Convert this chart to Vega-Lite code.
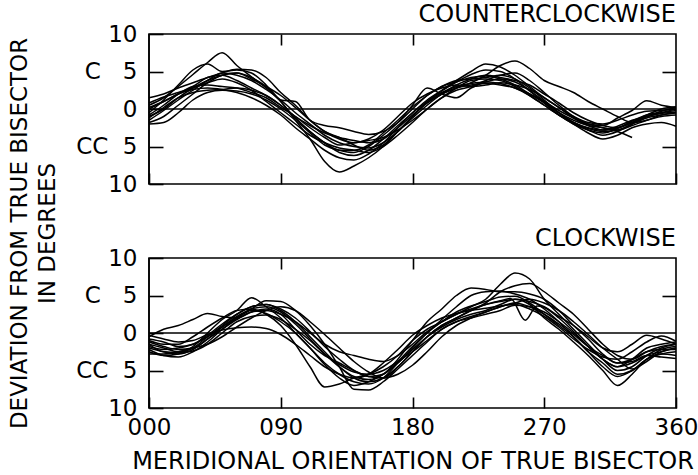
{
"$schema": "https://vega.github.io/schema/vega-lite/v6.json",
"background": "white",
"autosize": {"type": "none"},
"padding": {"left": 149, "top": 34, "right": 22, "bottom": 441},
"config": {
 "font": "DejaVu Sans",
 "view": {"stroke": "black", "strokeWidth": 1.6},
 "axis": {"grid": false, "domain": false, "minExtent": 0, "tickColor": "black", "tickWidth": 1.6, "labelColor": "black", "labelFont": "DejaVu Sans", "labelFontSize": 23, "titleFont": "DejaVu Sans", "titleFontSize": 24, "titleFontWeight": "normal", "titleColor": "black", "labelFlush": false, "labelOverlap": false},
 "title": {"font": "DejaVu Sans", "fontSize": 24, "fontWeight": "normal", "color": "black", "anchor": "end", "frame": "group"}
},
"datasets": {
"ccw": [
{"c":1,"x":0,"y":0.5},{"c":1,"x":10,"y":1.5},{"c":1,"x":20,"y":3.0},{"c":1,"x":30,"y":4.6},{"c":1,"x":40,"y":6.2},{"c":1,"x":50,"y":7.5},{"c":1,"x":60,"y":5.8},{"c":1,"x":70,"y":4.3},{"c":1,"x":80,"y":2.8},{"c":1,"x":90,"y":1.0},{"c":1,"x":100,"y":-1.5},{"c":1,"x":110,"y":-4.0},{"c":1,"x":120,"y":-7.0},{"c":1,"x":130,"y":-8.4},{"c":1,"x":140,"y":-7.6},{"c":1,"x":150,"y":-6.5},{"c":1,"x":160,"y":-5.0},{"c":1,"x":170,"y":-3.0},{"c":1,"x":180,"y":-1.0},{"c":1,"x":190,"y":1.0},{"c":1,"x":200,"y":2.4},{"c":1,"x":210,"y":3.6},{"c":1,"x":220,"y":4.6},{"c":1,"x":230,"y":5.2},{"c":1,"x":240,"y":5.0},{"c":1,"x":250,"y":4.0},{"c":1,"x":260,"y":2.4},{"c":1,"x":270,"y":0.8},{"c":1,"x":280,"y":-0.8},{"c":1,"x":290,"y":-2.0},{"c":1,"x":300,"y":-2.8},{"c":1,"x":310,"y":-3.2},{"c":1,"x":320,"y":-2.6},{"c":1,"x":330,"y":-1.6},{"c":1,"x":340,"y":-0.8},{"c":1,"x":350,"y":-0.5},{"c":1,"x":360,"y":-0.2},
{"c":2,"x":0,"y":-0.5},{"c":2,"x":10,"y":1.2},{"c":2,"x":20,"y":3.2},{"c":2,"x":30,"y":5.2},{"c":2,"x":40,"y":6.0},{"c":2,"x":50,"y":5.0},{"c":2,"x":60,"y":5.2},{"c":2,"x":70,"y":4.8},{"c":2,"x":80,"y":3.2},{"c":2,"x":90,"y":1.0},{"c":2,"x":100,"y":-1.2},{"c":2,"x":110,"y":-3.0},{"c":2,"x":120,"y":-4.5},{"c":2,"x":130,"y":-5.8},{"c":2,"x":140,"y":-6.2},{"c":2,"x":150,"y":-5.5},{"c":2,"x":160,"y":-4.0},{"c":2,"x":170,"y":-2.2},{"c":2,"x":180,"y":-0.5},{"c":2,"x":190,"y":1.2},{"c":2,"x":200,"y":2.5},{"c":2,"x":210,"y":3.8},{"c":2,"x":220,"y":5.0},{"c":2,"x":230,"y":6.0},{"c":2,"x":240,"y":5.6},{"c":2,"x":250,"y":4.5},{"c":2,"x":260,"y":3.0},{"c":2,"x":270,"y":1.5},{"c":2,"x":280,"y":0.2},{"c":2,"x":290,"y":-1.2},{"c":2,"x":300,"y":-2.2},{"c":2,"x":310,"y":-2.8},{"c":2,"x":320,"y":-2.5},{"c":2,"x":330,"y":-1.8},{"c":2,"x":340,"y":-1.0},{"c":2,"x":350,"y":-0.6},{"c":2,"x":360,"y":-0.4},
{"c":3,"x":0,"y":1.5},{"c":3,"x":10,"y":2.0},{"c":3,"x":20,"y":2.8},{"c":3,"x":30,"y":3.5},{"c":3,"x":40,"y":4.2},{"c":3,"x":50,"y":4.8},{"c":3,"x":60,"y":5.3},{"c":3,"x":70,"y":5.2},{"c":3,"x":80,"y":4.2},{"c":3,"x":90,"y":2.2},{"c":3,"x":100,"y":0.5},{"c":3,"x":110,"y":-1.5},{"c":3,"x":120,"y":-3.0},{"c":3,"x":130,"y":-3.8},{"c":3,"x":140,"y":-4.8},{"c":3,"x":150,"y":-5.5},{"c":3,"x":160,"y":-4.8},{"c":3,"x":170,"y":-3.0},{"c":3,"x":180,"y":-1.0},{"c":3,"x":190,"y":0.8},{"c":3,"x":200,"y":2.0},{"c":3,"x":210,"y":2.8},{"c":3,"x":220,"y":3.5},{"c":3,"x":230,"y":4.5},{"c":3,"x":240,"y":5.8},{"c":3,"x":250,"y":6.4},{"c":3,"x":260,"y":5.4},{"c":3,"x":270,"y":3.8},{"c":3,"x":280,"y":3.0},{"c":3,"x":290,"y":2.2},{"c":3,"x":300,"y":1.0},{"c":3,"x":310,"y":0.0},{"c":3,"x":320,"y":-1.0},{"c":3,"x":330,"y":-1.8},{"c":3,"x":340,"y":-1.5},{"c":3,"x":350,"y":-0.8},{"c":3,"x":360,"y":-0.5},
{"c":4,"x":0,"y":-1.0},{"c":4,"x":10,"y":0.0},{"c":4,"x":20,"y":1.5},{"c":4,"x":30,"y":2.8},{"c":4,"x":40,"y":3.8},{"c":4,"x":50,"y":4.5},{"c":4,"x":60,"y":4.8},{"c":4,"x":70,"y":4.2},{"c":4,"x":80,"y":3.0},{"c":4,"x":90,"y":1.2},{"c":4,"x":100,"y":1.0},{"c":4,"x":110,"y":-1.5},{"c":4,"x":120,"y":-2.2},{"c":4,"x":130,"y":-2.5},{"c":4,"x":140,"y":-3.0},{"c":4,"x":150,"y":-3.4},{"c":4,"x":160,"y":-3.0},{"c":4,"x":170,"y":-1.8},{"c":4,"x":180,"y":0.0},{"c":4,"x":190,"y":1.8},{"c":4,"x":200,"y":3.0},{"c":4,"x":210,"y":3.8},{"c":4,"x":220,"y":4.0},{"c":4,"x":230,"y":4.2},{"c":4,"x":240,"y":4.5},{"c":4,"x":250,"y":4.0},{"c":4,"x":260,"y":2.8},{"c":4,"x":270,"y":1.2},{"c":4,"x":280,"y":-0.5},{"c":4,"x":290,"y":-1.8},{"c":4,"x":300,"y":-2.8},{"c":4,"x":310,"y":-3.5},{"c":4,"x":320,"y":-3.0},{"c":4,"x":330,"y":-2.0},{"c":4,"x":340,"y":-1.0},{"c":4,"x":350,"y":-0.3},{"c":4,"x":360,"y":0.2},
{"c":5,"x":0,"y":-2.0},{"c":5,"x":10,"y":-1.8},{"c":5,"x":20,"y":-0.5},{"c":5,"x":30,"y":1.2},{"c":5,"x":40,"y":2.2},{"c":5,"x":50,"y":2.5},{"c":5,"x":60,"y":2.4},{"c":5,"x":70,"y":2.0},{"c":5,"x":80,"y":1.2},{"c":5,"x":90,"y":0.0},{"c":5,"x":100,"y":-1.5},{"c":5,"x":110,"y":-3.2},{"c":5,"x":120,"y":-4.8},{"c":5,"x":130,"y":-5.5},{"c":5,"x":140,"y":-5.8},{"c":5,"x":150,"y":-5.0},{"c":5,"x":160,"y":-3.5},{"c":5,"x":170,"y":-1.8},{"c":5,"x":180,"y":0.5},{"c":5,"x":190,"y":2.8},{"c":5,"x":200,"y":2.0},{"c":5,"x":210,"y":1.5},{"c":5,"x":220,"y":2.8},{"c":5,"x":230,"y":3.6},{"c":5,"x":240,"y":4.0},{"c":5,"x":250,"y":3.6},{"c":5,"x":260,"y":2.5},{"c":5,"x":270,"y":1.0},{"c":5,"x":280,"y":-0.5},{"c":5,"x":290,"y":-1.8},{"c":5,"x":300,"y":-2.5},{"c":5,"x":310,"y":-2.8},{"c":5,"x":320,"y":-2.3},{"c":5,"x":330,"y":-1.5},{"c":5,"x":340,"y":-1.0},{"c":5,"x":350,"y":-0.5},{"c":5,"x":360,"y":0.0},
{"c":6,"x":0,"y":0.2},{"c":6,"x":10,"y":1.0},{"c":6,"x":20,"y":2.0},{"c":6,"x":30,"y":2.6},{"c":6,"x":40,"y":2.8},{"c":6,"x":50,"y":2.6},{"c":6,"x":60,"y":2.2},{"c":6,"x":70,"y":1.5},{"c":6,"x":80,"y":0.5},{"c":6,"x":90,"y":-0.8},{"c":6,"x":100,"y":-2.5},{"c":6,"x":110,"y":-4.0},{"c":6,"x":120,"y":-5.5},{"c":6,"x":130,"y":-6.5},{"c":6,"x":140,"y":-6.8},{"c":6,"x":150,"y":-6.0},{"c":6,"x":160,"y":-4.5},{"c":6,"x":170,"y":-2.5},{"c":6,"x":180,"y":-0.5},{"c":6,"x":190,"y":1.0},{"c":6,"x":200,"y":2.2},{"c":6,"x":210,"y":3.0},{"c":6,"x":220,"y":3.4},{"c":6,"x":230,"y":3.6},{"c":6,"x":240,"y":3.4},{"c":6,"x":250,"y":2.8},{"c":6,"x":260,"y":1.8},{"c":6,"x":270,"y":0.5},{"c":6,"x":280,"y":-0.8},{"c":6,"x":290,"y":-1.8},{"c":6,"x":300,"y":-2.6},{"c":6,"x":310,"y":-3.0},{"c":6,"x":320,"y":-2.8},{"c":6,"x":330,"y":-2.0},{"c":6,"x":340,"y":-1.2},{"c":6,"x":350,"y":-0.8},{"c":6,"x":360,"y":-0.5},
{"c":7,"x":0,"y":-1.5},{"c":7,"x":10,"y":-0.2},{"c":7,"x":20,"y":1.2},{"c":7,"x":30,"y":2.5},{"c":7,"x":40,"y":3.8},{"c":7,"x":50,"y":4.8},{"c":7,"x":60,"y":4.5},{"c":7,"x":70,"y":3.8},{"c":7,"x":80,"y":2.6},{"c":7,"x":90,"y":1.2},{"c":7,"x":100,"y":-0.5},{"c":7,"x":110,"y":-2.0},{"c":7,"x":120,"y":-3.5},{"c":7,"x":130,"y":-4.5},{"c":7,"x":140,"y":-5.0},{"c":7,"x":150,"y":-5.2},{"c":7,"x":160,"y":-4.5},{"c":7,"x":170,"y":-3.0},{"c":7,"x":180,"y":-1.2},{"c":7,"x":190,"y":0.5},{"c":7,"x":200,"y":2.0},{"c":7,"x":210,"y":3.2},{"c":7,"x":220,"y":4.0},{"c":7,"x":230,"y":4.5},{"c":7,"x":240,"y":4.2},{"c":7,"x":250,"y":3.8},{"c":7,"x":260,"y":3.2},{"c":7,"x":270,"y":2.0},{"c":7,"x":280,"y":0.8},{"c":7,"x":290,"y":-0.5},{"c":7,"x":300,"y":-1.5},{"c":7,"x":310,"y":-2.2},{"c":7,"x":320,"y":-2.5},{"c":7,"x":330,"y":-1.8},{"c":7,"x":340,"y":-0.8},{"c":7,"x":350,"y":0.0},{"c":7,"x":360,"y":0.3},
{"c":8,"x":0,"y":0.8},{"c":8,"x":10,"y":1.6},{"c":8,"x":20,"y":2.2},{"c":8,"x":30,"y":2.8},{"c":8,"x":40,"y":3.5},{"c":8,"x":50,"y":4.0},{"c":8,"x":60,"y":3.5},{"c":8,"x":70,"y":2.5},{"c":8,"x":80,"y":1.0},{"c":8,"x":90,"y":-0.5},{"c":8,"x":100,"y":-2.0},{"c":8,"x":110,"y":-3.5},{"c":8,"x":120,"y":-4.5},{"c":8,"x":130,"y":-5.2},{"c":8,"x":140,"y":-5.5},{"c":8,"x":150,"y":-5.8},{"c":8,"x":160,"y":-5.0},{"c":8,"x":170,"y":-3.5},{"c":8,"x":180,"y":-1.8},{"c":8,"x":190,"y":0.0},{"c":8,"x":200,"y":1.5},{"c":8,"x":210,"y":2.5},{"c":8,"x":220,"y":3.0},{"c":8,"x":230,"y":3.8},{"c":8,"x":240,"y":4.5},{"c":8,"x":250,"y":4.8},{"c":8,"x":260,"y":3.8},{"c":8,"x":270,"y":2.2},{"c":8,"x":280,"y":0.5},{"c":8,"x":290,"y":-1.0},{"c":8,"x":300,"y":-2.0},{"c":8,"x":310,"y":-2.2},{"c":8,"x":320,"y":-1.2},{"c":8,"x":330,"y":-0.2},{"c":8,"x":340,"y":1.1},{"c":8,"x":350,"y":0.5},{"c":8,"x":360,"y":0.2},
{"c":9,"x":0,"y":-0.8},{"c":9,"x":10,"y":0.5},{"c":9,"x":20,"y":2.0},{"c":9,"x":30,"y":3.0},{"c":9,"x":40,"y":3.2},{"c":9,"x":50,"y":3.0},{"c":9,"x":60,"y":2.8},{"c":9,"x":70,"y":2.2},{"c":9,"x":80,"y":1.5},{"c":9,"x":90,"y":0.2},{"c":9,"x":100,"y":-1.0},{"c":9,"x":110,"y":-2.5},{"c":9,"x":120,"y":-3.8},{"c":9,"x":130,"y":-4.8},{"c":9,"x":140,"y":-4.5},{"c":9,"x":150,"y":-4.2},{"c":9,"x":160,"y":-3.8},{"c":9,"x":170,"y":-2.8},{"c":9,"x":180,"y":-1.5},{"c":9,"x":190,"y":0.0},{"c":9,"x":200,"y":1.5},{"c":9,"x":210,"y":2.8},{"c":9,"x":220,"y":3.8},{"c":9,"x":230,"y":4.0},{"c":9,"x":240,"y":3.8},{"c":9,"x":250,"y":3.0},{"c":9,"x":260,"y":1.8},{"c":9,"x":270,"y":0.5},{"c":9,"x":280,"y":-0.8},{"c":9,"x":290,"y":-2.0},{"c":9,"x":300,"y":-3.2},{"c":9,"x":310,"y":-4.0},{"c":9,"x":320,"y":-3.5},{"c":9,"x":330,"y":-2.5},{"c":9,"x":340,"y":-2.0},{"c":9,"x":350,"y":-1.8},{"c":9,"x":360,"y":-2.3},
{"c":10,"x":0,"y":-1.8},{"c":10,"x":10,"y":-1.0},{"c":10,"x":20,"y":0.5},{"c":10,"x":30,"y":2.0},{"c":10,"x":40,"y":3.5},{"c":10,"x":50,"y":4.5},{"c":10,"x":60,"y":4.8},{"c":10,"x":70,"y":4.0},{"c":10,"x":80,"y":3.0},{"c":10,"x":90,"y":1.8},{"c":10,"x":100,"y":0.2},{"c":10,"x":110,"y":-1.5},{"c":10,"x":120,"y":-3.0},{"c":10,"x":130,"y":-4.0},{"c":10,"x":140,"y":-4.5},{"c":10,"x":150,"y":-4.0},{"c":10,"x":160,"y":-2.8},{"c":10,"x":170,"y":-1.0},{"c":10,"x":180,"y":0.8},{"c":10,"x":190,"y":2.0},{"c":10,"x":200,"y":2.8},{"c":10,"x":210,"y":3.2},{"c":10,"x":220,"y":3.0},{"c":10,"x":230,"y":3.2},{"c":10,"x":240,"y":3.5},{"c":10,"x":250,"y":3.2},{"c":10,"x":260,"y":2.6},{"c":10,"x":270,"y":1.5},{"c":10,"x":280,"y":0.2},{"c":10,"x":290,"y":-1.0},{"c":10,"x":300,"y":-1.8},{"c":10,"x":310,"y":-2.0},{"c":10,"x":320,"y":-1.5},{"c":10,"x":330,"y":-0.8},{"c":10,"x":340,"y":-0.3},{"c":10,"x":350,"y":-0.2},{"c":10,"x":360,"y":0.0},
{"c":11,"x":0,"y":0.0},{"c":11,"x":10,"y":1.0},{"c":11,"x":20,"y":2.0},{"c":11,"x":30,"y":3.0},{"c":11,"x":40,"y":4.2},{"c":11,"x":50,"y":4.5},{"c":11,"x":60,"y":3.8},{"c":11,"x":70,"y":2.8},{"c":11,"x":80,"y":1.8},{"c":11,"x":90,"y":0.5},{"c":11,"x":100,"y":-1.2},{"c":11,"x":110,"y":-3.0},{"c":11,"x":120,"y":-4.5},{"c":11,"x":130,"y":-5.5},{"c":11,"x":140,"y":-5.5},{"c":11,"x":150,"y":-4.8},{"c":11,"x":160,"y":-3.2},{"c":11,"x":170,"y":-1.5},{"c":11,"x":180,"y":0.3},{"c":11,"x":190,"y":1.8},{"c":11,"x":200,"y":3.0},{"c":11,"x":210,"y":3.6},{"c":11,"x":220,"y":4.2},{"c":11,"x":230,"y":4.4},{"c":11,"x":240,"y":4.0},{"c":11,"x":250,"y":3.2},{"c":11,"x":260,"y":2.0},{"c":11,"x":270,"y":0.8},{"c":11,"x":280,"y":-0.5},{"c":11,"x":290,"y":-1.5},{"c":11,"x":300,"y":-2.2},{"c":11,"x":310,"y":-2.5},{"c":11,"x":320,"y":-3.0},{"c":11,"x":330,"y":-3.8},
{"c":12,"x":0,"y":-1.2},{"c":12,"x":10,"y":0.2},{"c":12,"x":20,"y":1.5},{"c":12,"x":30,"y":2.2},{"c":12,"x":40,"y":2.5},{"c":12,"x":50,"y":2.6},{"c":12,"x":60,"y":2.8},{"c":12,"x":70,"y":2.5},{"c":12,"x":80,"y":1.8},{"c":12,"x":90,"y":0.5},{"c":12,"x":100,"y":-1.0},{"c":12,"x":110,"y":-2.2},{"c":12,"x":120,"y":-3.2},{"c":12,"x":130,"y":-3.8},{"c":12,"x":140,"y":-4.2},{"c":12,"x":150,"y":-4.5},{"c":12,"x":160,"y":-4.0},{"c":12,"x":170,"y":-2.5},{"c":12,"x":180,"y":-0.8},{"c":12,"x":190,"y":0.8},{"c":12,"x":200,"y":2.0},{"c":12,"x":210,"y":2.8},{"c":12,"x":220,"y":3.2},{"c":12,"x":230,"y":3.4},{"c":12,"x":240,"y":3.2},{"c":12,"x":250,"y":2.8},{"c":12,"x":260,"y":2.0},{"c":12,"x":270,"y":1.0},{"c":12,"x":280,"y":-0.2},{"c":12,"x":290,"y":-1.2},{"c":12,"x":300,"y":-2.0},{"c":12,"x":310,"y":-2.5},{"c":12,"x":320,"y":-2.8},{"c":12,"x":330,"y":-2.2},{"c":12,"x":340,"y":-1.5},{"c":12,"x":350,"y":-1.0},{"c":12,"x":360,"y":-0.8}
],
"cw": [
{"c":1,"x":0,"y":-1.0},{"c":1,"x":10,"y":-1.5},{"c":1,"x":20,"y":-1.5},{"c":1,"x":30,"y":-0.5},{"c":1,"x":40,"y":0.8},{"c":1,"x":50,"y":2.0},{"c":1,"x":60,"y":3.0},{"c":1,"x":70,"y":3.2},{"c":1,"x":80,"y":2.5},{"c":1,"x":90,"y":1.0},{"c":1,"x":100,"y":-1.5},{"c":1,"x":110,"y":-4.5},{"c":1,"x":120,"y":-7.2},{"c":1,"x":130,"y":-6.8},{"c":1,"x":140,"y":-6.0},{"c":1,"x":150,"y":-5.5},{"c":1,"x":160,"y":-4.5},{"c":1,"x":170,"y":-3.0},{"c":1,"x":180,"y":-1.0},{"c":1,"x":190,"y":0.5},{"c":1,"x":200,"y":1.5},{"c":1,"x":210,"y":2.5},{"c":1,"x":220,"y":3.5},{"c":1,"x":230,"y":4.5},{"c":1,"x":240,"y":6.5},{"c":1,"x":250,"y":8.0},{"c":1,"x":260,"y":7.2},{"c":1,"x":270,"y":4.5},{"c":1,"x":280,"y":2.5},{"c":1,"x":290,"y":0.5},{"c":1,"x":300,"y":-1.5},{"c":1,"x":310,"y":-3.5},{"c":1,"x":320,"y":-5.0},{"c":1,"x":330,"y":-4.5},{"c":1,"x":340,"y":-3.0},{"c":1,"x":350,"y":-2.0},{"c":1,"x":360,"y":-1.5},
{"c":2,"x":0,"y":-2.0},{"c":2,"x":10,"y":-2.5},{"c":2,"x":20,"y":-2.8},{"c":2,"x":30,"y":-2.2},{"c":2,"x":40,"y":-0.8},{"c":2,"x":50,"y":0.8},{"c":2,"x":60,"y":2.2},{"c":2,"x":70,"y":3.2},{"c":2,"x":80,"y":3.5},{"c":2,"x":90,"y":2.8},{"c":2,"x":100,"y":1.2},{"c":2,"x":110,"y":-0.8},{"c":2,"x":120,"y":-2.8},{"c":2,"x":130,"y":-4.5},{"c":2,"x":140,"y":-5.8},{"c":2,"x":150,"y":-6.2},{"c":2,"x":160,"y":-5.5},{"c":2,"x":170,"y":-3.5},{"c":2,"x":180,"y":-1.0},{"c":2,"x":190,"y":1.5},{"c":2,"x":200,"y":3.2},{"c":2,"x":210,"y":5.0},{"c":2,"x":220,"y":6.0},{"c":2,"x":230,"y":5.8},{"c":2,"x":240,"y":5.5},{"c":2,"x":250,"y":5.5},{"c":2,"x":260,"y":5.2},{"c":2,"x":270,"y":4.5},{"c":2,"x":280,"y":3.0},{"c":2,"x":290,"y":1.0},{"c":2,"x":300,"y":-0.8},{"c":2,"x":310,"y":-2.8},{"c":2,"x":320,"y":-4.0},{"c":2,"x":330,"y":-3.5},{"c":2,"x":340,"y":-2.5},{"c":2,"x":350,"y":-2.2},{"c":2,"x":360,"y":-2.2},
{"c":3,"x":0,"y":-0.5},{"c":3,"x":10,"y":0.5},{"c":3,"x":20,"y":1.0},{"c":3,"x":30,"y":1.8},{"c":3,"x":40,"y":2.6},{"c":3,"x":50,"y":2.2},{"c":3,"x":60,"y":2.0},{"c":3,"x":70,"y":2.8},{"c":3,"x":80,"y":3.2},{"c":3,"x":90,"y":2.5},{"c":3,"x":100,"y":0.5},{"c":3,"x":110,"y":-1.5},{"c":3,"x":120,"y":-3.0},{"c":3,"x":130,"y":-4.0},{"c":3,"x":140,"y":-5.0},{"c":3,"x":150,"y":-5.8},{"c":3,"x":160,"y":-6.0},{"c":3,"x":170,"y":-4.5},{"c":3,"x":180,"y":-2.5},{"c":3,"x":190,"y":-0.5},{"c":3,"x":200,"y":1.0},{"c":3,"x":210,"y":2.0},{"c":3,"x":220,"y":3.0},{"c":3,"x":230,"y":4.0},{"c":3,"x":240,"y":5.5},{"c":3,"x":250,"y":6.3},{"c":3,"x":260,"y":6.6},{"c":3,"x":270,"y":5.5},{"c":3,"x":280,"y":4.0},{"c":3,"x":290,"y":2.5},{"c":3,"x":300,"y":0.5},{"c":3,"x":310,"y":-1.5},{"c":3,"x":320,"y":-3.0},{"c":3,"x":330,"y":-3.5},{"c":3,"x":340,"y":-2.5},{"c":3,"x":350,"y":-1.8},{"c":3,"x":360,"y":-1.5},
{"c":4,"x":0,"y":-1.5},{"c":4,"x":10,"y":-2.0},{"c":4,"x":20,"y":-2.5},{"c":4,"x":30,"y":-2.0},{"c":4,"x":40,"y":-0.5},{"c":4,"x":50,"y":1.0},{"c":4,"x":60,"y":2.5},{"c":4,"x":70,"y":3.5},{"c":4,"x":80,"y":3.8},{"c":4,"x":90,"y":3.0},{"c":4,"x":100,"y":1.5},{"c":4,"x":110,"y":-0.5},{"c":4,"x":120,"y":-2.5},{"c":4,"x":130,"y":-4.5},{"c":4,"x":140,"y":-6.0},{"c":4,"x":150,"y":-6.5},{"c":4,"x":160,"y":-6.0},{"c":4,"x":170,"y":-4.5},{"c":4,"x":180,"y":-2.5},{"c":4,"x":190,"y":-0.5},{"c":4,"x":200,"y":1.0},{"c":4,"x":210,"y":2.0},{"c":4,"x":220,"y":3.0},{"c":4,"x":230,"y":3.8},{"c":4,"x":240,"y":4.3},{"c":4,"x":247,"y":4.6},{"c":4,"x":257,"y":1.7},{"c":4,"x":265,"y":3.6},{"c":4,"x":270,"y":3.4},{"c":4,"x":280,"y":2.0},{"c":4,"x":290,"y":0.2},{"c":4,"x":300,"y":-1.8},{"c":4,"x":310,"y":-3.5},{"c":4,"x":320,"y":-4.5},{"c":4,"x":330,"y":-4.0},{"c":4,"x":340,"y":-3.0},{"c":4,"x":350,"y":-2.5},{"c":4,"x":360,"y":-2.0},
{"c":5,"x":0,"y":-2.5},{"c":5,"x":10,"y":-3.0},{"c":5,"x":20,"y":-2.8},{"c":5,"x":30,"y":-1.8},{"c":5,"x":40,"y":0.0},{"c":5,"x":50,"y":1.8},{"c":5,"x":60,"y":3.0},{"c":5,"x":70,"y":4.7},{"c":5,"x":80,"y":3.5},{"c":5,"x":90,"y":2.0},{"c":5,"x":100,"y":0.0},{"c":5,"x":110,"y":-2.0},{"c":5,"x":120,"y":-4.0},{"c":5,"x":130,"y":-5.5},{"c":5,"x":140,"y":-6.5},{"c":5,"x":150,"y":-6.8},{"c":5,"x":160,"y":-6.0},{"c":5,"x":170,"y":-4.0},{"c":5,"x":180,"y":-2.0},{"c":5,"x":190,"y":0.0},{"c":5,"x":200,"y":1.5},{"c":5,"x":210,"y":2.8},{"c":5,"x":220,"y":3.6},{"c":5,"x":230,"y":4.2},{"c":5,"x":240,"y":4.8},{"c":5,"x":250,"y":4.9},{"c":5,"x":260,"y":4.0},{"c":5,"x":270,"y":2.5},{"c":5,"x":280,"y":1.0},{"c":5,"x":290,"y":-0.5},{"c":5,"x":300,"y":-2.5},{"c":5,"x":310,"y":-4.5},{"c":5,"x":320,"y":-5.8},{"c":5,"x":330,"y":-5.0},{"c":5,"x":340,"y":-3.5},{"c":5,"x":350,"y":-2.8},{"c":5,"x":360,"y":-2.5},
{"c":6,"x":0,"y":-1.8},{"c":6,"x":10,"y":-2.2},{"c":6,"x":20,"y":-2.0},{"c":6,"x":30,"y":-1.5},{"c":6,"x":40,"y":-0.5},{"c":6,"x":50,"y":0.8},{"c":6,"x":60,"y":2.0},{"c":6,"x":70,"y":3.2},{"c":6,"x":80,"y":4.3},{"c":6,"x":90,"y":4.2},{"c":6,"x":100,"y":3.0},{"c":6,"x":110,"y":1.0},{"c":6,"x":120,"y":-1.5},{"c":6,"x":130,"y":-4.5},{"c":6,"x":140,"y":-7.5},{"c":6,"x":150,"y":-7.6},{"c":6,"x":160,"y":-6.5},{"c":6,"x":170,"y":-4.8},{"c":6,"x":180,"y":-3.0},{"c":6,"x":190,"y":-1.2},{"c":6,"x":200,"y":0.5},{"c":6,"x":210,"y":1.5},{"c":6,"x":220,"y":2.0},{"c":6,"x":230,"y":2.5},{"c":6,"x":240,"y":3.0},{"c":6,"x":250,"y":3.7},{"c":6,"x":260,"y":3.5},{"c":6,"x":270,"y":2.8},{"c":6,"x":280,"y":1.5},{"c":6,"x":290,"y":0.0},{"c":6,"x":300,"y":-1.8},{"c":6,"x":310,"y":-3.5},{"c":6,"x":320,"y":-4.5},{"c":6,"x":330,"y":-3.5},{"c":6,"x":340,"y":-2.0},{"c":6,"x":350,"y":-1.5},{"c":6,"x":360,"y":-1.2},
{"c":7,"x":0,"y":-0.3},{"c":7,"x":10,"y":-0.8},{"c":7,"x":20,"y":-1.2},{"c":7,"x":30,"y":-1.0},{"c":7,"x":40,"y":-0.2},{"c":7,"x":50,"y":0.4},{"c":7,"x":60,"y":0.7},{"c":7,"x":70,"y":0.8},{"c":7,"x":80,"y":0.6},{"c":7,"x":90,"y":-0.2},{"c":7,"x":100,"y":-1.5},{"c":7,"x":110,"y":-3.0},{"c":7,"x":120,"y":-4.5},{"c":7,"x":130,"y":-5.5},{"c":7,"x":140,"y":-6.0},{"c":7,"x":150,"y":-5.5},{"c":7,"x":160,"y":-4.0},{"c":7,"x":170,"y":-2.2},{"c":7,"x":180,"y":-0.3},{"c":7,"x":190,"y":1.0},{"c":7,"x":200,"y":2.0},{"c":7,"x":210,"y":2.6},{"c":7,"x":220,"y":3.0},{"c":7,"x":230,"y":3.3},{"c":7,"x":240,"y":3.6},{"c":7,"x":250,"y":3.8},{"c":7,"x":260,"y":3.2},{"c":7,"x":270,"y":2.2},{"c":7,"x":280,"y":0.8},{"c":7,"x":290,"y":-0.8},{"c":7,"x":300,"y":-2.2},{"c":7,"x":310,"y":-3.2},{"c":7,"x":320,"y":-3.5},{"c":7,"x":330,"y":-2.5},{"c":7,"x":340,"y":-1.2},{"c":7,"x":350,"y":-0.4},{"c":7,"x":360,"y":-1.1},
{"c":8,"x":0,"y":-1.2},{"c":8,"x":10,"y":-1.8},{"c":8,"x":20,"y":-2.2},{"c":8,"x":30,"y":-2.0},{"c":8,"x":40,"y":-0.8},{"c":8,"x":50,"y":0.5},{"c":8,"x":60,"y":1.8},{"c":8,"x":70,"y":2.8},{"c":8,"x":80,"y":3.0},{"c":8,"x":90,"y":2.5},{"c":8,"x":100,"y":1.5},{"c":8,"x":110,"y":0.0},{"c":8,"x":120,"y":-1.5},{"c":8,"x":130,"y":-2.5},{"c":8,"x":140,"y":-3.0},{"c":8,"x":150,"y":-3.5},{"c":8,"x":160,"y":-3.8},{"c":8,"x":170,"y":-3.0},{"c":8,"x":180,"y":-1.5},{"c":8,"x":190,"y":0.2},{"c":8,"x":200,"y":1.5},{"c":8,"x":210,"y":2.5},{"c":8,"x":220,"y":3.2},{"c":8,"x":230,"y":3.8},{"c":8,"x":240,"y":4.2},{"c":8,"x":250,"y":4.5},{"c":8,"x":260,"y":4.2},{"c":8,"x":270,"y":3.5},{"c":8,"x":280,"y":2.2},{"c":8,"x":290,"y":1.0},{"c":8,"x":300,"y":-0.5},{"c":8,"x":310,"y":-2.0},{"c":8,"x":320,"y":-2.5},{"c":8,"x":330,"y":-1.5},{"c":8,"x":340,"y":-0.3},{"c":8,"x":350,"y":-0.8},{"c":8,"x":360,"y":-1.5},
{"c":9,"x":0,"y":-2.2},{"c":9,"x":10,"y":-3.0},{"c":9,"x":20,"y":-3.2},{"c":9,"x":30,"y":-2.5},{"c":9,"x":40,"y":-1.2},{"c":9,"x":50,"y":0.5},{"c":9,"x":60,"y":2.0},{"c":9,"x":70,"y":3.0},{"c":9,"x":80,"y":2.6},{"c":9,"x":90,"y":1.5},{"c":9,"x":100,"y":0.0},{"c":9,"x":110,"y":-2.0},{"c":9,"x":120,"y":-4.2},{"c":9,"x":130,"y":-6.0},{"c":9,"x":140,"y":-7.0},{"c":9,"x":150,"y":-6.5},{"c":9,"x":160,"y":-5.5},{"c":9,"x":170,"y":-4.0},{"c":9,"x":180,"y":-2.2},{"c":9,"x":190,"y":-0.5},{"c":9,"x":200,"y":0.8},{"c":9,"x":210,"y":1.8},{"c":9,"x":220,"y":2.5},{"c":9,"x":230,"y":3.0},{"c":9,"x":240,"y":3.8},{"c":9,"x":250,"y":4.5},{"c":9,"x":260,"y":3.8},{"c":9,"x":270,"y":2.0},{"c":9,"x":280,"y":0.5},{"c":9,"x":290,"y":-1.2},{"c":9,"x":300,"y":-3.0},{"c":9,"x":310,"y":-5.0},{"c":9,"x":320,"y":-7.0},{"c":9,"x":330,"y":-5.5},{"c":9,"x":340,"y":-3.5},{"c":9,"x":350,"y":-2.8},{"c":9,"x":360,"y":-3.0},
{"c":10,"x":0,"y":-1.5},{"c":10,"x":10,"y":-2.5},{"c":10,"x":20,"y":-2.6},{"c":10,"x":30,"y":-2.4},{"c":10,"x":40,"y":-1.5},{"c":10,"x":50,"y":0.0},{"c":10,"x":60,"y":1.5},{"c":10,"x":70,"y":2.2},{"c":10,"x":80,"y":2.4},{"c":10,"x":90,"y":1.8},{"c":10,"x":100,"y":0.5},{"c":10,"x":110,"y":-1.0},{"c":10,"x":120,"y":-2.8},{"c":10,"x":130,"y":-4.2},{"c":10,"x":140,"y":-5.2},{"c":10,"x":150,"y":-5.5},{"c":10,"x":160,"y":-5.0},{"c":10,"x":170,"y":-3.8},{"c":10,"x":180,"y":-2.5},{"c":10,"x":190,"y":-1.0},{"c":10,"x":200,"y":0.5},{"c":10,"x":210,"y":1.5},{"c":10,"x":220,"y":2.2},{"c":10,"x":230,"y":2.8},{"c":10,"x":240,"y":3.5},{"c":10,"x":250,"y":4.0},{"c":10,"x":260,"y":3.5},{"c":10,"x":270,"y":2.5},{"c":10,"x":280,"y":1.2},{"c":10,"x":290,"y":-0.2},{"c":10,"x":300,"y":-1.8},{"c":10,"x":310,"y":-3.0},{"c":10,"x":320,"y":-4.0},{"c":10,"x":330,"y":-3.8},{"c":10,"x":340,"y":-3.0},{"c":10,"x":350,"y":-3.2},{"c":10,"x":360,"y":-3.4},
{"c":11,"x":0,"y":-2.8},{"c":11,"x":10,"y":-2.8},{"c":11,"x":20,"y":-2.5},{"c":11,"x":30,"y":-2.0},{"c":11,"x":40,"y":-1.5},{"c":11,"x":50,"y":-0.5},{"c":11,"x":60,"y":0.8},{"c":11,"x":70,"y":2.0},{"c":11,"x":80,"y":3.0},{"c":11,"x":90,"y":3.5},{"c":11,"x":100,"y":3.0},{"c":11,"x":110,"y":1.5},{"c":11,"x":120,"y":-0.2},{"c":11,"x":130,"y":-2.0},{"c":11,"x":140,"y":-3.8},{"c":11,"x":150,"y":-5.2},{"c":11,"x":160,"y":-6.0},{"c":11,"x":170,"y":-5.5},{"c":11,"x":180,"y":-4.3},{"c":11,"x":190,"y":-2.5},{"c":11,"x":200,"y":-0.5},{"c":11,"x":210,"y":1.0},{"c":11,"x":220,"y":2.0},{"c":11,"x":230,"y":2.8},{"c":11,"x":240,"y":3.5},{"c":11,"x":250,"y":4.0},{"c":11,"x":260,"y":4.5},{"c":11,"x":270,"y":4.0},{"c":11,"x":280,"y":3.0},{"c":11,"x":290,"y":1.5},{"c":11,"x":300,"y":-0.2},{"c":11,"x":310,"y":-2.0},{"c":11,"x":320,"y":-3.5},{"c":11,"x":330,"y":-4.8},{"c":11,"x":340,"y":-3.8},{"c":11,"x":350,"y":-2.5},{"c":11,"x":360,"y":-2.0},
{"c":12,"x":0,"y":-0.8},{"c":12,"x":10,"y":-1.2},{"c":12,"x":20,"y":-1.8},{"c":12,"x":30,"y":-1.5},{"c":12,"x":40,"y":-0.3},{"c":12,"x":50,"y":1.2},{"c":12,"x":60,"y":2.5},{"c":12,"x":70,"y":3.5},{"c":12,"x":80,"y":3.8},{"c":12,"x":90,"y":3.2},{"c":12,"x":100,"y":2.0},{"c":12,"x":110,"y":0.2},{"c":12,"x":120,"y":-1.8},{"c":12,"x":130,"y":-3.5},{"c":12,"x":140,"y":-5.0},{"c":12,"x":150,"y":-5.8},{"c":12,"x":160,"y":-5.5},{"c":12,"x":170,"y":-3.8},{"c":12,"x":180,"y":-1.8},{"c":12,"x":190,"y":0.0},{"c":12,"x":200,"y":1.8},{"c":12,"x":210,"y":3.5},{"c":12,"x":220,"y":5.0},{"c":12,"x":230,"y":5.5},{"c":12,"x":240,"y":5.6},{"c":12,"x":250,"y":5.2},{"c":12,"x":260,"y":4.5},{"c":12,"x":270,"y":3.2},{"c":12,"x":280,"y":1.5},{"c":12,"x":290,"y":-0.5},{"c":12,"x":300,"y":-2.5},{"c":12,"x":310,"y":-4.0},{"c":12,"x":320,"y":-5.5},{"c":12,"x":330,"y":-5.0},{"c":12,"x":340,"y":-3.5},{"c":12,"x":350,"y":-2.2},{"c":12,"x":360,"y":-1.8}
]
},
"bounds": "flush",
"spacing": 74,
"vconcat": [
 {
  "width": 527, "height": 150,
  "title": {"text": "COUNTERCLOCKWISE", "baseline": "alphabetic", "offset": -23},
  "layer": [
   {"data": {"name": "ccw"},
    "mark": {"type": "line", "interpolate": "monotone", "color": "black", "strokeWidth": 1.5},
    "encoding": {
     "x": {"field": "x", "type": "quantitative", "scale": {"domain": [0, 360], "nice": false, "zero": false},
           "axis": {"orient": "bottom", "values": [0, 90, 180, 270, 360], "offset": -11, "tickSize": 11, "labels": false, "title": null}},
     "y": {"field": "y", "type": "quantitative", "scale": {"domain": [-10, 10], "nice": false},
           "axis": {"orient": "left", "values": [-10, -5, 0, 5, 10], "offset": -14, "tickSize": 14, "labelPadding": 12,
                    "labelExpr": "datum.value == 5 ? 'C\u00a0\u00a0\u00a05' : datum.value == -5 ? 'CC\u00a0\u00a05' : datum.value == 0 ? '0' : '10'",
                    "title": ["DEVIATION FROM TRUE BISECTOR", "IN DEGREES"], "titleFontSize": 23, "titleAngle": -90, "titleX": -155, "titleY": 199, "titleAlign": "center", "titleBaseline": "top", "titleLineHeight": 28}},
     "detail": {"field": "c", "type": "nominal"}
    }},
   {"data": {"values": [{}]},
    "mark": {"type": "rule", "color": "black", "strokeWidth": 1.3},
    "encoding": {"y": {"datum": 0, "type": "quantitative", "axis": {"orient": "right", "values": [-5, 5], "offset": -14, "tickSize": 14, "labels": false, "title": null}}}},
   {"data": {"values": [{}]},
    "mark": {"type": "rule", "color": "black", "strokeWidth": 1.5},
    "encoding": {"x": {"datum": 0, "type": "quantitative", "axis": {"orient": "top", "values": [90, 180, 270], "offset": -11, "tickSize": 11, "labels": false, "title": null}}}}
  ],
  "resolve": {"axis": {"x": "independent", "y": "independent"}}
 },
 {
  "width": 527, "height": 150,
  "title": {"text": "CLOCKWISE", "baseline": "alphabetic", "offset": -23},
  "layer": [
   {"data": {"name": "cw"},
    "mark": {"type": "line", "interpolate": "monotone", "color": "black", "strokeWidth": 1.5},
    "encoding": {
     "x": {"field": "x", "type": "quantitative", "scale": {"domain": [0, 360], "nice": false, "zero": false},
           "axis": {"orient": "bottom", "values": [0, 90, 180, 270, 360], "offset": -11, "tickSize": 11, "labelPadding": 8,
                    "labelExpr": "datum.value == 0 ? '000' : datum.value == 90 ? '090' : datum.label",
                    "title": "MERIDIONAL ORIENTATION OF TRUE BISECTOR", "titlePadding": 10}},
     "y": {"field": "y", "type": "quantitative", "scale": {"domain": [-10, 10], "nice": false},
           "axis": {"orient": "left", "values": [-10, -5, 0, 5, 10], "offset": -14, "tickSize": 14, "labelPadding": 12,
                    "labelExpr": "datum.value == 5 ? 'C\u00a0\u00a0\u00a05' : datum.value == -5 ? 'CC\u00a0\u00a05' : datum.value == 0 ? '0' : '10'",
                    "title": null}},
     "detail": {"field": "c", "type": "nominal"}
    }},
   {"data": {"values": [{}]},
    "mark": {"type": "rule", "color": "black", "strokeWidth": 1.3},
    "encoding": {"y": {"datum": 0, "type": "quantitative", "axis": {"orient": "right", "values": [-5, 5], "offset": -14, "tickSize": 14, "labels": false, "title": null}}}},
   {"data": {"values": [{}]},
    "mark": {"type": "rule", "color": "black", "strokeWidth": 1.5},
    "encoding": {"x": {"datum": 0, "type": "quantitative", "axis": {"orient": "top", "values": [90, 180, 270], "offset": -11, "tickSize": 11, "labels": false, "title": null}}}}
  ],
  "resolve": {"axis": {"x": "independent", "y": "independent"}}
 }
]
}
